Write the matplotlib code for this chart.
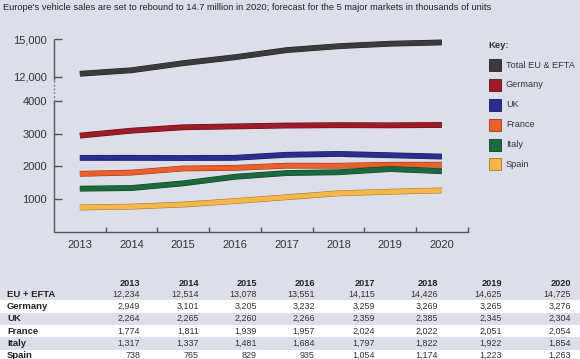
import numpy as np
import matplotlib
matplotlib.use("Agg")
import matplotlib.pyplot as plt
import matplotlib.patches as mpatches
import matplotlib.patheffects as pe

plt.rcParams['font.family'] = ['Liberation Sans', 'DejaVu Sans']

# ---------------- data ----------------
years = [2013, 2014, 2015, 2016, 2017, 2018, 2019, 2020]
series_names = ["Total EU & EFTA", "Germany", "UK", "France", "Italy", "Spain"]
table_names = ["EU + EFTA", "Germany", "UK", "France", "Italy", "Spain"]
eu_efta = [12234, 12514, 13078, 13551, 14115, 14426, 14625, 14725]
germany = [2949, 3101, 3205, 3232, 3259, 3269, 3265, 3276]
uk = [2264, 2265, 2260, 2266, 2359, 2385, 2345, 2304]
france = [1774, 1811, 1939, 1957, 2024, 2022, 2051, 2054]
italy = [1317, 1337, 1481, 1684, 1797, 1822, 1922, 1854]
spain = [738, 765, 829, 935, 1054, 1174, 1223, 1263]
all_series = [eu_efta, germany, uk, france, italy, spain]
colors = ["#3b3b3d", "#9e1b27", "#2a2e8e", "#ea602d", "#1c6a3b", "#f3b74a"]
edge_colors = ["#222222", "#5e0f16", "#181a55", "#9a3a16", "#0f3e22", "#a77a25"]
ytick_values = [1000, 2000, 3000, 4000, 12000, 15000]
ytick_labels = ["1000", "2000", "3000", "4000", "12,000", "15,000"]
title = ("Europe's vehicle sales are set to rebound to 14.7 million in 2020; "
         "forecast for the 5 major markets in thousands of units")

BG = "#dcdfea"
W, H = 580, 359

# broken axis: linear 0-4000, then compressed 12,000-15,000
BREAK_LO, BREAK_HI, U_HI, U_SPAN = 4000, 12000, 4.76, 1.16


def u(v):
    v = np.asarray(v, dtype=float)
    return np.where(v <= BREAK_LO, v / 1000.0,
                    U_HI + (v - BREAK_HI) / 3000.0 * U_SPAN)


def fx(px):
    return px / W


def fy(py):
    return 1 - py / H


fig = plt.figure(figsize=(W / 100, H / 100), dpi=100, facecolor=BG)

# ---------------- chart ----------------
ax = fig.add_axes([fx(54), fy(231.5), (467.7 - 54) / W, (231.5 - 39) / H])
ax.set_facecolor(BG)
for name, vals, c, ec in zip(series_names, all_series, colors, edge_colors):
    ax.plot(years, u(vals), color=c, lw=3.4, solid_capstyle='butt',
            solid_joinstyle='round',
            path_effects=[pe.Stroke(linewidth=4.2, foreground=ec), pe.Normal()])

ax.set_xlim(2012.5, 2020.5)
ymax = float(u(15000))
ax.set_ylim(0, ymax)
for s in ["top", "right", "left"]:
    ax.spines[s].set_visible(False)
ax.spines["bottom"].set_color("#555555")
ax.spines["bottom"].set_linewidth(1.0)

ax.set_xticks(years)
ax.set_xticklabels([str(y) for y in years])
ax.set_xticks([y + 0.5 for y in years], minor=True)
ax.tick_params(axis='x', which='major', length=0, pad=6, labelsize=8,
               labelcolor="#333333")
ax.tick_params(axis='x', which='minor', length=3.5, width=1.0,
               direction='in', color="#555555")

ax.set_yticks(u(ytick_values))
ax.set_yticklabels(ytick_labels)
ax.tick_params(axis='y', which='major', length=6, width=1.0, direction='in',
               color="#555555", pad=5, labelsize=8, labelcolor="#333333")

# left spine with dotted break
yt = ax.get_yaxis_transform()
ax.plot([0, 0], [0, float(u(BREAK_LO))], color="#555555", lw=1.0,
        transform=yt, clip_on=False, solid_capstyle='butt')
ax.plot([0, 0], [float(u(BREAK_LO)), float(u(BREAK_HI)) - 0.1], color="#777777",
        lw=1.0, ls=(0, (1.2, 1.5)), transform=yt, clip_on=False)
ax.plot([0, 0], [float(u(BREAK_HI)) - 0.1, ymax], color="#555555", lw=1.0,
        transform=yt, clip_on=False, solid_capstyle='butt')

# ---------------- title ----------------
fig.text(fx(3), fy(8), title, fontsize=6.7, color="#222222", va='center',
         ha='left')

# ---------------- key ----------------
fig.text(fx(488), fy(45.7), "Key:", fontsize=6.8, fontweight='bold',
         color="#333333", va='center', ha='left')
for i, (name, c, ec) in enumerate(zip(series_names, colors, edge_colors)):
    yc = 65 + i * 19.9
    fig.patches.append(mpatches.Rectangle((fx(489), fy(yc + 6)), 12 / W, 12 / H,
                                          transform=fig.transFigure,
                                          facecolor=c, edgecolor=ec, lw=0.6))
    fig.text(fx(506), fy(yc), name, fontsize=6.6, color="#333333",
             va='center', ha='left')

# ---------------- table ----------------
col_right = [140, 198.7, 256.7, 315, 375, 438.3, 501.7, 570.7]
row0, step = 294.2, 12.3
for i in (1, 3, 5):
    yc = row0 + i * step
    fig.patches.append(mpatches.Rectangle((0, fy(yc + 6.15)), 1, 12.3 / H,
                                          transform=fig.transFigure,
                                          facecolor="white", edgecolor='none',
                                          zorder=0))
for yr, xr in zip(years, col_right):
    fig.text(fx(xr), fy(283.3), str(yr), fontsize=6.6, fontweight='bold',
             color="#222222", ha='right', va='center')
for i, (name, vals) in enumerate(zip(table_names, all_series)):
    yc = row0 + i * step
    fig.text(fx(7), fy(yc), name, fontsize=6.8, fontweight='bold',
             color="#222222", ha='left', va='center')
    for v, xr in zip(vals, col_right):
        fig.text(fx(xr), fy(yc), f"{v:,}", fontsize=6.4, color="#333333",
                 ha='right', va='center')

fig.savefig("out.png", dpi=100, facecolor=BG)
